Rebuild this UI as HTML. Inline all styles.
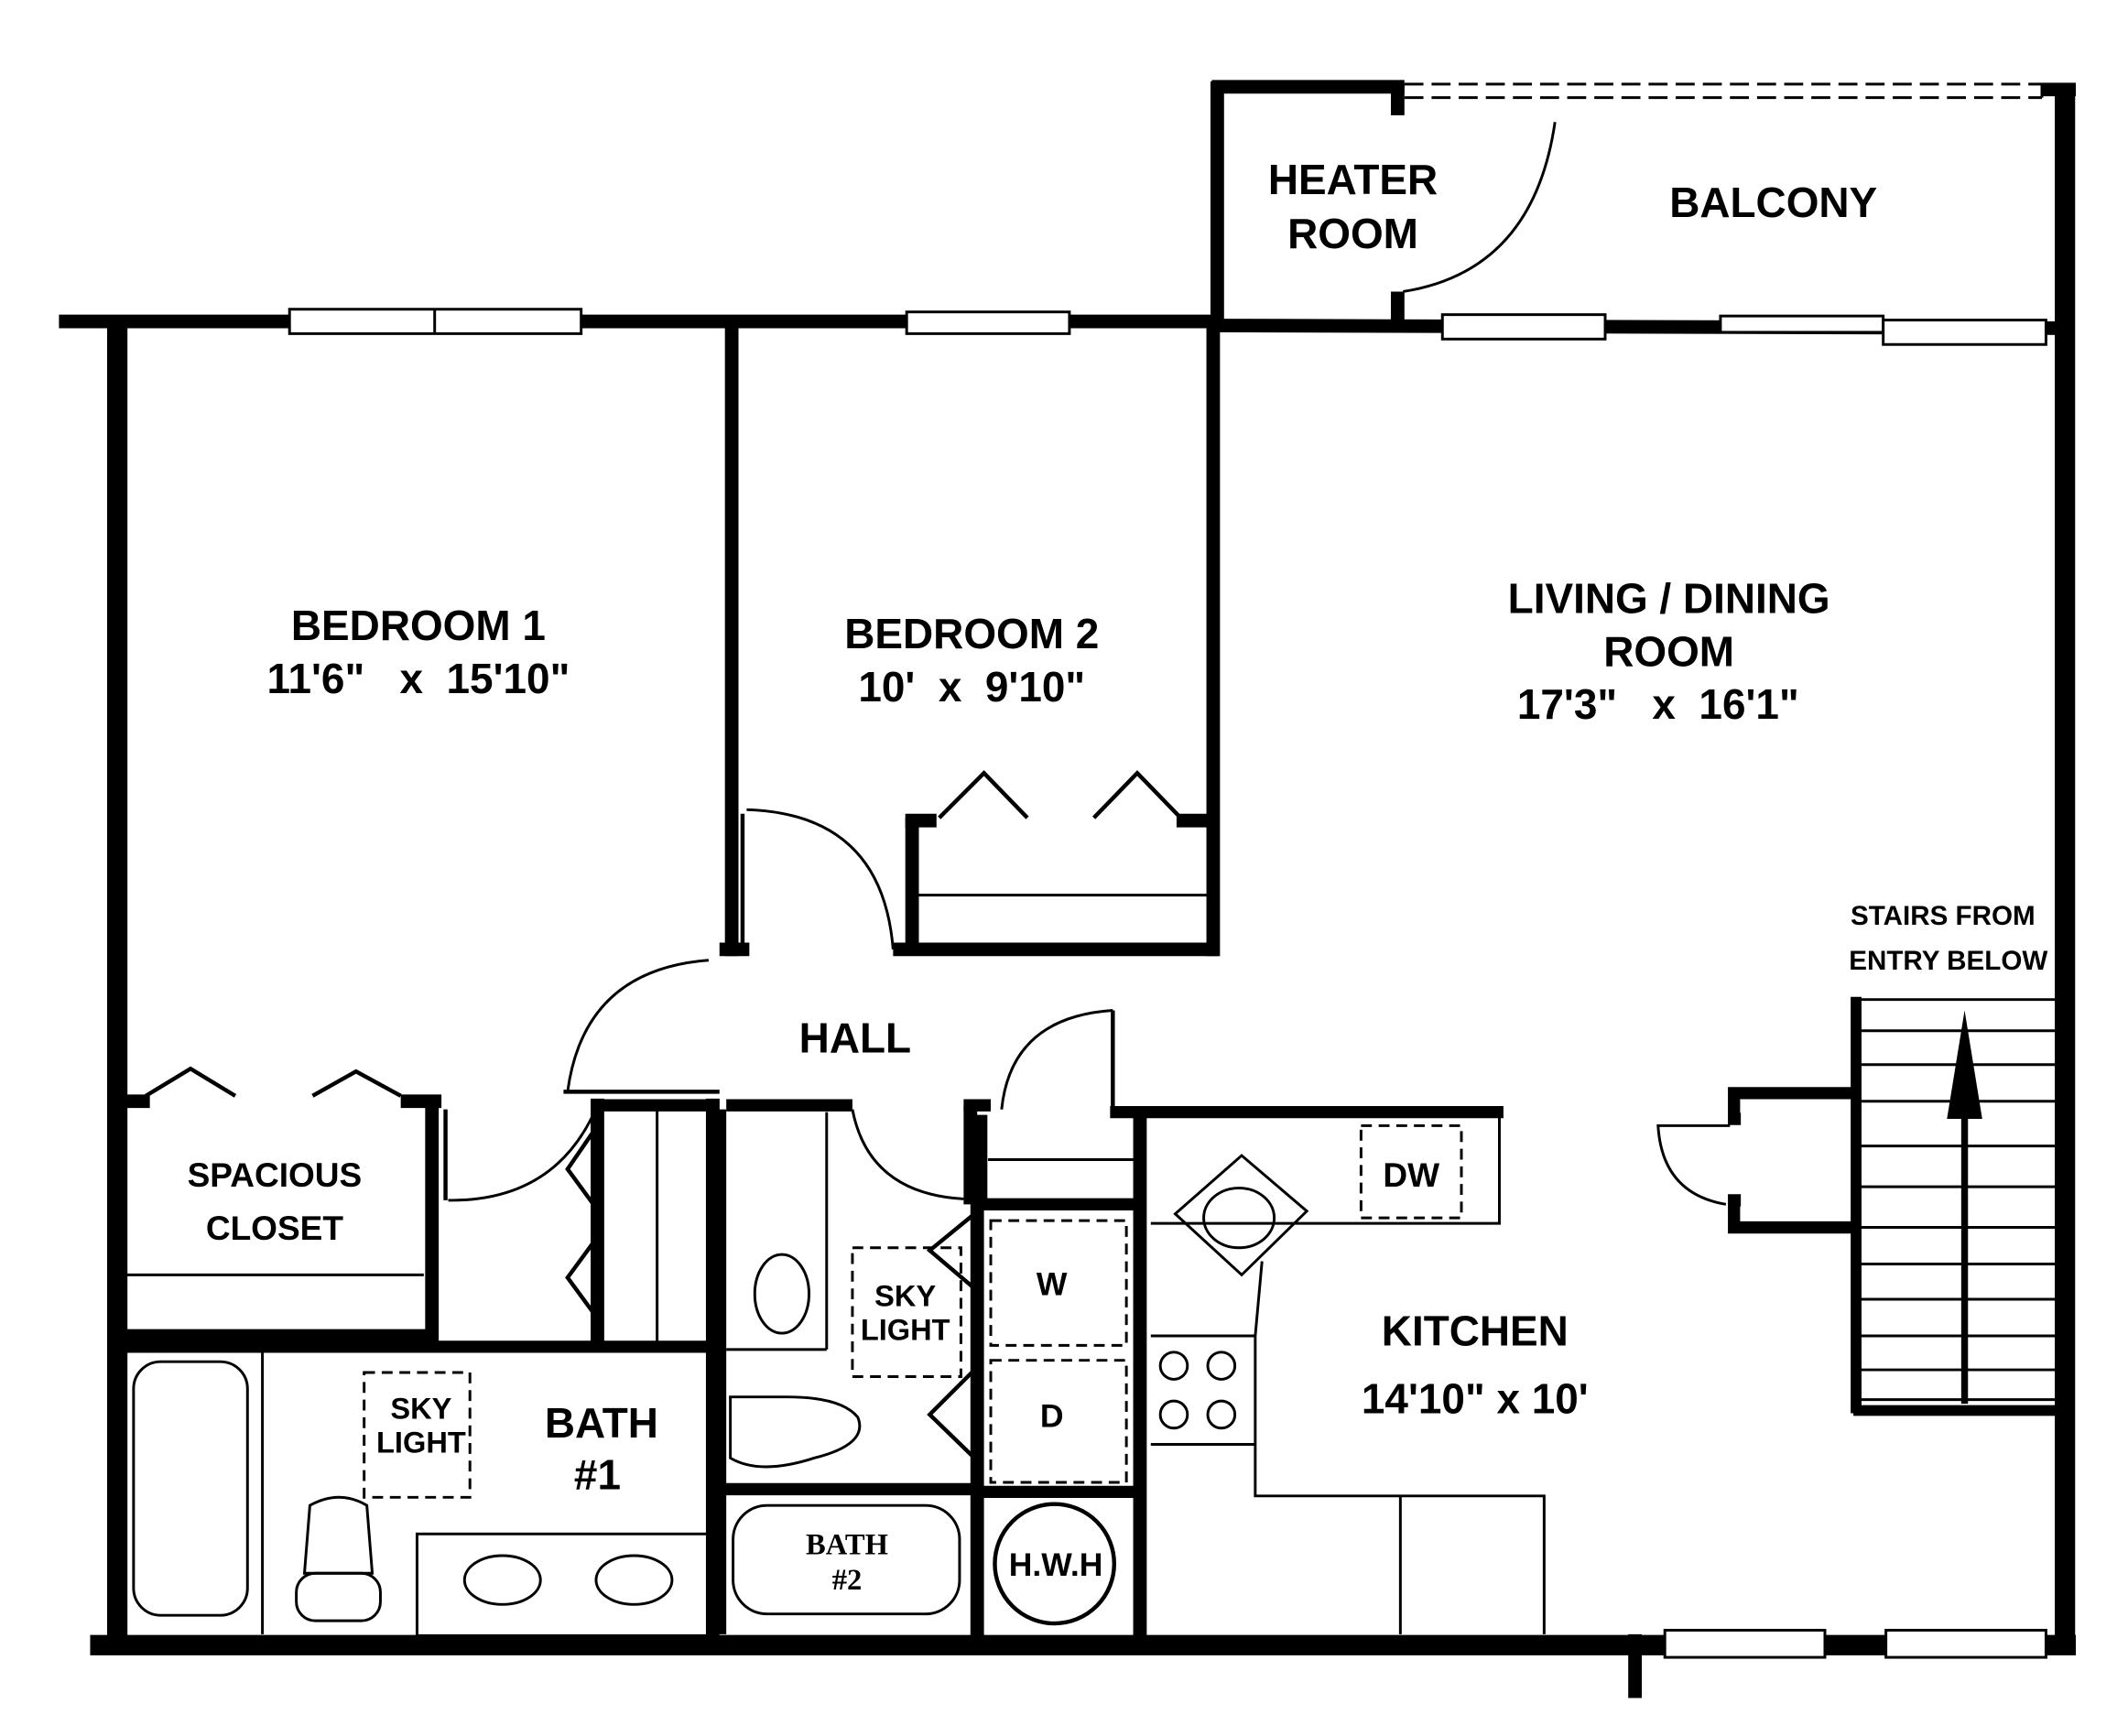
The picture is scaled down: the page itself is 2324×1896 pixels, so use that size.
<!DOCTYPE html>
<html><head><meta charset="utf-8"><style>
html,body{margin:0;padding:0;background:#fff;}
svg{display:block;}
text{font-family:"Liberation Sans",sans-serif;font-weight:bold;fill:#000;}
</style></head><body>
<svg width="2324" height="1896" viewBox="0 0 1568 1280" xmlns="http://www.w3.org/2000/svg">
<rect width="1568" height="1280" fill="#fff"/>
<g stroke="#000" fill="none" stroke-linecap="butt">
<!-- outer walls -->
<line x1="43" y1="237" x2="897" y2="237" stroke-width="10"/>
<line x1="897" y1="240" x2="1525" y2="242" stroke-width="10"/>
<line x1="86" y1="236" x2="86" y2="1220" stroke-width="15"/>
<line x1="66" y1="1213" x2="1530" y2="1213" stroke-width="15"/>
<line x1="1522" y1="62" x2="1522" y2="1210" stroke-width="15"/>
<line x1="1505" y1="66" x2="1530" y2="66" stroke-width="10"/>
<line x1="1205" y1="1205" x2="1205" y2="1252" stroke-width="10"/>
<!-- heater room -->
<line x1="897" y1="60" x2="897" y2="240" stroke-width="10"/>
<line x1="893" y1="64" x2="1035" y2="64" stroke-width="10"/>
<line x1="1030" y1="62" x2="1030" y2="85" stroke-width="10"/>
<line x1="1030" y1="215" x2="1030" y2="240" stroke-width="10"/>
<path d="M1034 215 Q1130 200 1146 90" stroke-width="2"/>
<line x1="1035" y1="62" x2="1505" y2="62" stroke-width="2" stroke-dasharray="14,6"/>
<line x1="1035" y1="72" x2="1505" y2="72" stroke-width="2" stroke-dasharray="14,6"/>
<line x1="1505" y1="62" x2="1505" y2="72" stroke-width="2"/>
<!-- bedroom partitions -->
<line x1="539" y1="240" x2="539" y2="705" stroke-width="10"/>
<line x1="894" y1="240" x2="894" y2="705" stroke-width="10"/>
<line x1="530" y1="700" x2="552" y2="700" stroke-width="10"/>
<line x1="547" y1="600" x2="547" y2="700" stroke-width="3"/>
<path d="M550 597 Q650 600 658 700" stroke-width="2"/>
<!-- bedroom2 closet -->
<line x1="658" y1="700" x2="898" y2="700" stroke-width="10"/>
<line x1="672" y1="603" x2="672" y2="700" stroke-width="10"/>
<line x1="667" y1="605" x2="690" y2="605" stroke-width="10"/>
<line x1="867" y1="605" x2="890" y2="605" stroke-width="10"/>
<line x1="677" y1="660" x2="890" y2="660" stroke-width="2"/>
<polyline points="692,603 725,570 757,603" stroke-width="3"/>
<polyline points="806,603 838,570 870,603" stroke-width="3"/>
<!-- bedroom1 closet -->
<line x1="90" y1="985" x2="318" y2="985" stroke-width="10"/>
<line x1="318" y1="810" x2="318" y2="990" stroke-width="10"/>
<line x1="295" y1="812" x2="325" y2="812" stroke-width="10"/>
<line x1="90" y1="812" x2="110" y2="812" stroke-width="10"/>
<line x1="92" y1="940" x2="312" y2="940" stroke-width="2"/>
<line x1="328" y1="818" x2="328" y2="885" stroke-width="3"/>
<path d="M330 885 Q410 886 440 815" stroke-width="2"/>
<polyline points="107,808 140,788 173,808" stroke-width="3"/>
<polyline points="230,808 262,790 295,808" stroke-width="3"/>
<!-- hall door left -->
<path d="M418 805 Q430 715 522 708" stroke-width="2"/>
<line x1="415" y1="805" x2="530" y2="805" stroke-width="3"/>
<!-- bath1 -->
<line x1="90" y1="993" x2="525" y2="993" stroke-width="9"/>
<line x1="440" y1="810" x2="440" y2="992" stroke-width="10"/>
<line x1="440" y1="815" x2="530" y2="815" stroke-width="9"/>
<line x1="525" y1="810" x2="525" y2="1210" stroke-width="10"/>
<line x1="484" y1="818" x2="484" y2="990" stroke-width="2"/>
<polyline points="440,830 418,862 440,892" stroke-width="3"/>
<polyline points="440,912 418,942 440,972" stroke-width="3"/>
<line x1="193" y1="995" x2="193" y2="1205" stroke-width="2"/>
<rect x="98" y="1004" width="84" height="187" rx="20" stroke-width="2"/>
<rect x="307" y="1131" width="215" height="75" stroke-width="2"/>
<ellipse cx="370" cy="1165" rx="28" ry="18" stroke-width="2"/>
<ellipse cx="467" cy="1165" rx="28" ry="18" stroke-width="2"/>
<rect x="268" y="1012" width="78" height="92" stroke-width="2" stroke-dasharray="8,5"/>
<path d="M224 1160 L228 1110 Q250 1098 270 1110 L274 1160 Z" stroke-width="2"/>
<rect x="218" y="1160" width="62" height="35" rx="14" stroke-width="2"/>
<!-- bath2 -->
<line x1="530" y1="818" x2="530" y2="1205" stroke-width="10"/>
<line x1="535" y1="815" x2="628" y2="815" stroke-width="9"/>
<line x1="710" y1="815" x2="730" y2="815" stroke-width="9"/>
<path d="M628 818 Q640 880 710 884" stroke-width="2"/>
<line x1="715" y1="815" x2="715" y2="888" stroke-width="10"/>
<line x1="609" y1="820" x2="609" y2="995" stroke-width="2"/>
<line x1="535" y1="995" x2="609" y2="995" stroke-width="2"/>
<ellipse cx="576" cy="954" rx="20" ry="29" stroke-width="2"/>
<path d="M538 1030 L538 1075 Q560 1088 600 1075 Q640 1065 632 1045 Q620 1030 580 1030 Z" stroke-width="2"/>
<line x1="530" y1="1098" x2="720" y2="1098" stroke-width="9"/>
<rect x="540" y="1110" width="167" height="80" rx="25" stroke-width="2"/>
<rect x="628" y="920" width="80" height="95" stroke-width="2" stroke-dasharray="8,5"/>
<polyline points="718,895 685,922 718,950" stroke-width="3"/>
<polyline points="718,1010 685,1043 718,1075" stroke-width="3"/>
<line x1="720" y1="880" x2="720" y2="1210" stroke-width="10"/>
<line x1="720" y1="888" x2="840" y2="888" stroke-width="9"/>
<rect x="730" y="900" width="100" height="92" stroke-width="2" stroke-dasharray="8,5"/>
<rect x="730" y="1003" width="100" height="90" stroke-width="2" stroke-dasharray="8,5"/>
<line x1="720" y1="1100" x2="840" y2="1100" stroke-width="9"/>
<circle cx="777" cy="1153" r="44" stroke-width="3"/>
<!-- hall door right / closet -->
<line x1="723" y1="822" x2="723" y2="885" stroke-width="9"/>
<path d="M738 818 Q745 750 820 745" stroke-width="2"/>
<line x1="820" y1="745" x2="820" y2="820" stroke-width="3"/>
<line x1="818" y1="820" x2="1108" y2="820" stroke-width="9"/>
<line x1="728" y1="855" x2="835" y2="855" stroke-width="2"/>
<line x1="840" y1="820" x2="840" y2="1210" stroke-width="10"/>
<!-- kitchen -->
<polyline points="848,902 960,902 1105,902 1105,822" stroke-width="2"/>
<rect x="1003" y="830" width="74" height="68" stroke-width="2" stroke-dasharray="8,5"/>
<polygon points="866,895 915,852 963,893 915,940" stroke-width="2"/>
<ellipse cx="913" cy="898" rx="26" ry="22" stroke-width="2"/>
<polyline points="930,930 925,985 925,1103 1138,1103 1138,1205" stroke-width="2"/>
<line x1="1032" y1="1103" x2="1032" y2="1205" stroke-width="2"/>
<line x1="848" y1="985" x2="925" y2="985" stroke-width="2"/>
<line x1="848" y1="1065" x2="925" y2="1065" stroke-width="2"/>
<circle cx="865" cy="1007" r="10" stroke-width="2"/>
<circle cx="900" cy="1007" r="10" stroke-width="2"/>
<circle cx="865" cy="1043" r="10" stroke-width="2"/>
<circle cx="900" cy="1043" r="10" stroke-width="2"/>
<!-- entry -->
<polyline points="1283,885 1278,885 1278,905 1370,905" stroke-width="9"/>
<polyline points="1283,825 1278,825 1278,806 1370,806" stroke-width="9"/>
<path d="M1272 888 Q1225 880 1222 830 L1275 830" stroke-width="2"/>
<!-- stairs -->
<line x1="1368" y1="735" x2="1368" y2="1042" stroke-width="8"/>
<line x1="1366" y1="1040" x2="1522" y2="1040" stroke-width="8"/>
<line x1="1370" y1="737" x2="1520" y2="737" stroke-width="2"/>
<g stroke-width="2">
<line x1="1370" y1="760" x2="1520" y2="760"/><line x1="1370" y1="785" x2="1520" y2="785"/>
<line x1="1370" y1="812" x2="1520" y2="812"/><line x1="1370" y1="845" x2="1520" y2="845"/>
<line x1="1370" y1="875" x2="1520" y2="875"/><line x1="1370" y1="905" x2="1520" y2="905"/>
<line x1="1370" y1="932" x2="1520" y2="932"/><line x1="1370" y1="958" x2="1520" y2="958"/>
<line x1="1370" y1="985" x2="1520" y2="985"/><line x1="1370" y1="1010" x2="1520" y2="1010"/>
<line x1="1370" y1="1032" x2="1520" y2="1032"/>
</g>
<line x1="1448" y1="790" x2="1448" y2="1035" stroke-width="5"/>
</g>
<polygon points="1448,745 1435,825 1461,825" fill="#000"/>
<!-- windows -->
<g fill="#fff" stroke="#000" stroke-width="2">
<rect x="213" y="228" width="215" height="18"/><line x1="320" y1="228" x2="320" y2="246" stroke="#000"/>
<rect x="668" y="230" width="120" height="16"/>
<rect x="1063" y="232" width="120" height="18"/>
<rect x="1268" y="233" width="120" height="12"/>
<rect x="1388" y="236" width="120" height="18"/>
<rect x="1227" y="1202" width="118" height="20"/>
<rect x="1390" y="1202" width="118" height="20"/>
</g>
<!-- labels -->
<g text-anchor="middle">
<text x="997" y="143" font-size="31">HEATER</text>
<text x="997" y="183" font-size="31">ROOM</text>
<text x="1307" y="160" font-size="31">BALCONY</text>
<text x="308" y="472" font-size="31">BEDROOM 1</text>
<text x="308" y="511" font-size="31">11'6"&#160;&#160; x&#160; 15'10"</text>
<text x="716" y="478" font-size="31">BEDROOM 2</text>
<text x="716" y="517" font-size="31">10'&#160;&#160;x&#160;&#160;9'10"</text>
<text x="1230" y="452" font-size="31">LIVING / DINING</text>
<text x="1230" y="491" font-size="31">ROOM</text>
<text x="1222" y="530" font-size="31">17'3"&#160;&#160; x&#160; 16'1"</text>
<text x="1432" y="682" font-size="20">STAIRS FROM</text>
<text x="1436" y="715" font-size="20">ENTRY BELOW</text>
<text x="630" y="776" font-size="31">HALL</text>
<text x="202" y="875" font-size="25">SPACIOUS</text>
<text x="202" y="914" font-size="25">CLOSET</text>
<text x="1040" y="875" font-size="25" font-weight="normal">DW</text>
<text x="775" y="955" font-size="24" font-weight="normal">W</text>
<text x="775" y="1052" font-size="24" font-weight="normal">D</text>
<text x="667" y="963" font-size="22" font-weight="normal">SKY</text>
<text x="667" y="988" font-size="22" font-weight="normal">LIGHT</text>
<text x="310" y="1046" font-size="22" font-weight="normal">SKY</text>
<text x="310" y="1071" font-size="22" font-weight="normal">LIGHT</text>
<text x="443" y="1060" font-size="31">BATH</text>
<text x="440" y="1098" font-size="31">#1</text>
<text x="1087" y="992" font-size="31">KITCHEN</text>
<text x="1087" y="1042" font-size="31">14'10" x 10'</text>
<text x="624" y="1146" font-size="22" font-weight="normal" style="font-family:'Liberation Serif',serif">BATH</text>
<text x="624" y="1172" font-size="22" font-weight="normal" style="font-family:'Liberation Serif',serif">#2</text>
<text x="778" y="1162" font-size="24" font-weight="normal">H.W.H</text>
</g>
</svg>
</body></html>
